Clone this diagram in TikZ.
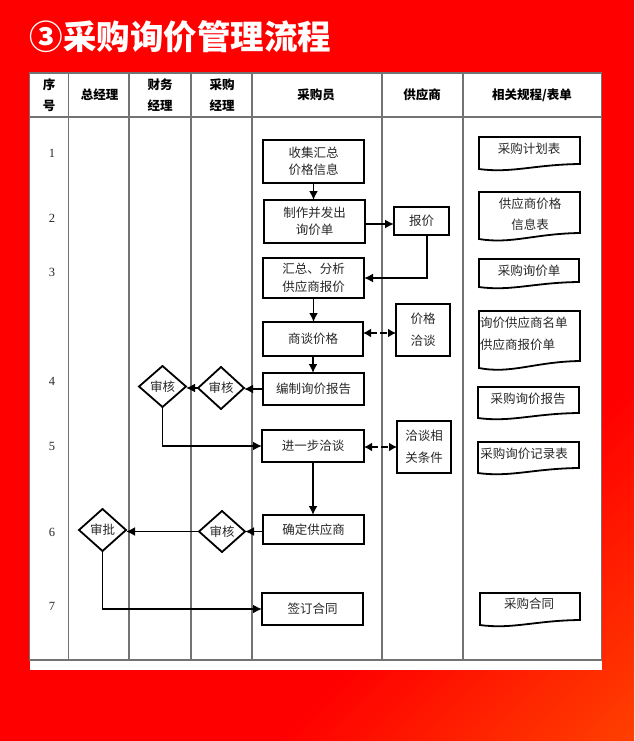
\documentclass[tikz,border=0pt]{standalone}
\usepackage{fontspec}
\setmainfont{Noto Sans CJK SC}
\newfontfamily\digitfont{Liberation Serif}
\usetikzlibrary{shapes.geometric,arrows.meta}

\definecolor{bgorange}{RGB}{255,62,0}
\definecolor{bgred}{RGB}{255,0,0}
\definecolor{gridgrey}{RGB}{115,115,115}
\definecolor{inkgrey}{RGB}{40,40,40}

\pgfdeclareverticalshading{redfade}{100bp}{color(0bp)=(bgorange); color(15bp)=(bgorange); color(33bp)=(bgred); color(100bp)=(bgred)}

\tikzset{
  grid line/.style={draw=gridgrey, line width=1.4pt},
  head/.style={text=black, font=\fontsize{12.5}{21.5}\selectfont\bfseries, align=center, inner sep=0pt},
  rownum/.style={text=inkgrey, font=\digitfont\fontsize{12.5}{14}\selectfont, inner sep=0pt},
  stepbox/.style={draw=black, line width=1.9pt, fill=white, text=inkgrey, inner sep=0pt, outer sep=0pt,
    font=\fontsize{12.5}{17.5}\selectfont, align=center},
  talkbox/.style={stepbox, font=\fontsize{12.5}{22}\selectfont},
  decision/.style={draw=black, line width=1.8pt, diamond, fill=white, text=inkgrey, inner sep=0pt, outer sep=0pt,
    font=\fontsize{12.5}{14}\selectfont},
  doc line/.style={draw=black, line width=1.8pt, fill=white},
  doc text/.style={text=inkgrey, font=\fontsize{12.5}{21.5}\selectfont, inner sep=0pt, align=center},
  flow/.style={draw=black, line width=1.8pt, -{Latex[length=9pt,width=9pt]}},
  talk/.style={flow, {Latex[length=8pt,width=9pt]}-{Latex[length=8pt,width=9pt]}, dash pattern=on 7pt off 3pt}
}

% x1, y1, x2, y2 (right end of the wave), depth of the wave
\newcommand{\wavedoc}[5]{
  \draw[doc line] (#1,#2) -- (#3,#2) -- (#3,#4)
    .. controls ({#3-0.45*(#3-#1)},{#4+#5*0.1}) and ({#1+0.32*(#3-#1)},{#4+#5*1.9}) .. (#1,{#4+#5}) -- cycle;
}

\begin{document}
\begin{tikzpicture}[x=1pt, y=-1pt]

  \useasboundingbox (0,0) rectangle (634,741);

  % --- Background and title ---
  \shade[shading=redfade, shading angle=45] (0,0) rectangle (634,741);
  \node[text=white, font=\fontsize{33.5}{36}\selectfont\bfseries, anchor=west, inner sep=0pt] (title)
        at (29.5,37) {③采购询价管理流程};

  % --- Table ---
  \fill[white] (30,72) rectangle (602,670);
  \draw[grid line] (29.5,73) -- (601.5,73) -- (601.5,660) -- (29.5,660) -- cycle;
  \draw[grid line] (29.5,117) -- (601.5,117);
  \draw[grid line] (68.5,73) -- (68.5,660);
  \draw[grid line] (129,73) -- (129,660);
  \draw[grid line] (191,73) -- (191,660);
  \draw[grid line] (252,73) -- (252,660);
  \draw[grid line] (382,73) -- (382,660);
  \draw[grid line] (463,73) -- (463,660);

  % --- Header row ---
  \node[head] (headno) at (49,95) {序\\号};
  \node[head] (headgm) at (99.5,95) {总经理};
  \node[head] (headfin) at (160,95) {财务\\经理};
  \node[head] (headpm) at (222,95) {采购\\经理};
  \node[head] (headbuyer) at (316,95) {采购员};
  \node[head] (headsup) at (422,95) {供应商};
  \node[head] (headdocs) at (532,95) {相关规程/表单};

  % --- Row numbers ---
  \node[rownum] (row1) at (52,153) {1};
  \node[rownum] (row2) at (52,218) {2};
  \node[rownum] (row3) at (52,272) {3};
  \node[rownum] (row4) at (52,381) {4};
  \node[rownum] (row5) at (52,446) {5};
  \node[rownum] (row6) at (52,532) {6};
  \node[rownum] (row7) at (52,606) {7};

  % --- Purchaser boxes ---
  \node[stepbox, minimum width=101pt, minimum height=43pt] (collect) at (313.5,161.5) {收集汇总\\价格信息};
  \node[stepbox, minimum width=101pt, minimum height=43pt] (inquiry) at (314.5,221.5) {制作并发出\\询价单};
  \node[stepbox, minimum width=101pt, minimum height=40pt] (analyse) at (313.5,278) {汇总、分析\\供应商报价};
  \node[stepbox, minimum width=100pt, minimum height=34pt] (negotiate) at (313,339) {商谈价格};
  \node[stepbox, minimum width=101pt, minimum height=32pt] (report) at (313.5,389) {编制询价报告};
  \node[stepbox, minimum width=102pt, minimum height=32pt] (further) at (313,446) {进一步洽谈};
  \node[stepbox, minimum width=101pt, minimum height=29pt] (confirm) at (313.5,529.5) {确定供应商};
  \node[stepbox, minimum width=101pt, minimum height=32pt] (contract) at (312.5,609) {签订合同};

  % --- Supplier boxes ---
  \node[stepbox, minimum width=55pt, minimum height=28pt] (quote) at (421.5,221) {报价};
  \node[talkbox, minimum width=54pt, minimum height=52pt] (pricetalk) at (423,330) {价格\\洽谈};
  \node[talkbox, minimum width=54pt, minimum height=52pt] (termtalk) at (424,447) {洽谈相\\关条件};

  % --- Review diamonds ---
  \node[decision, minimum width=47pt, minimum height=41pt] (finreview) at (162.5,386.5) {审核};
  \node[decision, minimum width=46pt, minimum height=42pt] (pmreview) at (221,388) {审核};
  \node[decision, minimum width=46pt, minimum height=41pt] (pmreview2) at (222,531.5) {审核};
  \node[decision, minimum width=47pt, minimum height=42pt] (gmapprove) at (102.5,530) {审批};

  % --- Forms column ---
  \wavedoc{479}{137}{580}{164}{5}
  \node[doc text] (docplan) at (529,149) {采购计划表};
  \wavedoc{479}{192}{580}{233}{6}
  \node[doc text] (docprice) at (530,214) {供应商价格\\信息表};
  \wavedoc{479}{259}{579}{282}{5}
  \node[doc text] (docinquiry) at (529,271) {采购询价单};
  \wavedoc{479}{311}{580}{361}{7}
  \node[doc text, align=left, anchor=west] (docnames) at (480,333.5) {询价供应商名单\\供应商报价单};
  \wavedoc{478}{387}{579}{413}{5}
  \node[doc text] (docreport) at (528,399) {采购询价报告};
  \wavedoc{478}{442}{579}{468}{5}
  \node[doc text] (docrecord) at (524,454) {采购询价记录表};
  \wavedoc{480}{593}{580}{620}{5}
  \node[doc text] (doccontract) at (529,604) {采购合同};

  % --- Main flow ---
  \draw[flow] (collect.south) -- (collect.south |- inquiry.north);
  \draw[flow] ([yshift=-2.5pt]inquiry.east) -- ([yshift=-2.5pt]inquiry.east -| quote.west);
  \draw[flow] ([xshift=5.5pt]quote.south) |- (analyse.east);
  \draw[flow] (analyse.south) -- (analyse.south |- negotiate.north);
  \draw[flow] (negotiate.south) -- (negotiate.south |- report.north);
  \draw[flow] (report.west) -- (report.west -| pmreview.east);
  \draw[flow] (pmreview.west) -- (pmreview.west -| finreview.east);
  \draw[flow] (finreview.south) |- (further.west);
  \draw[flow] (further.south) -- (further.south |- confirm.north);
  \draw[flow] (confirm.west |- pmreview2) -- (pmreview2.east);
  \draw[flow] (pmreview2.west) -- (pmreview2.west -| gmapprove.east);
  \draw[flow] (gmapprove.south) |- (contract.west);

  % --- Dashed negotiation links ---
  \draw[talk] ([yshift=6pt]negotiate.east) -- ([yshift=6pt]negotiate.east -| pricetalk.west);
  \draw[talk] ([yshift=-1pt]further.east) -- ([yshift=-1pt]further.east -| termtalk.west);

\end{tikzpicture}
\end{document}
